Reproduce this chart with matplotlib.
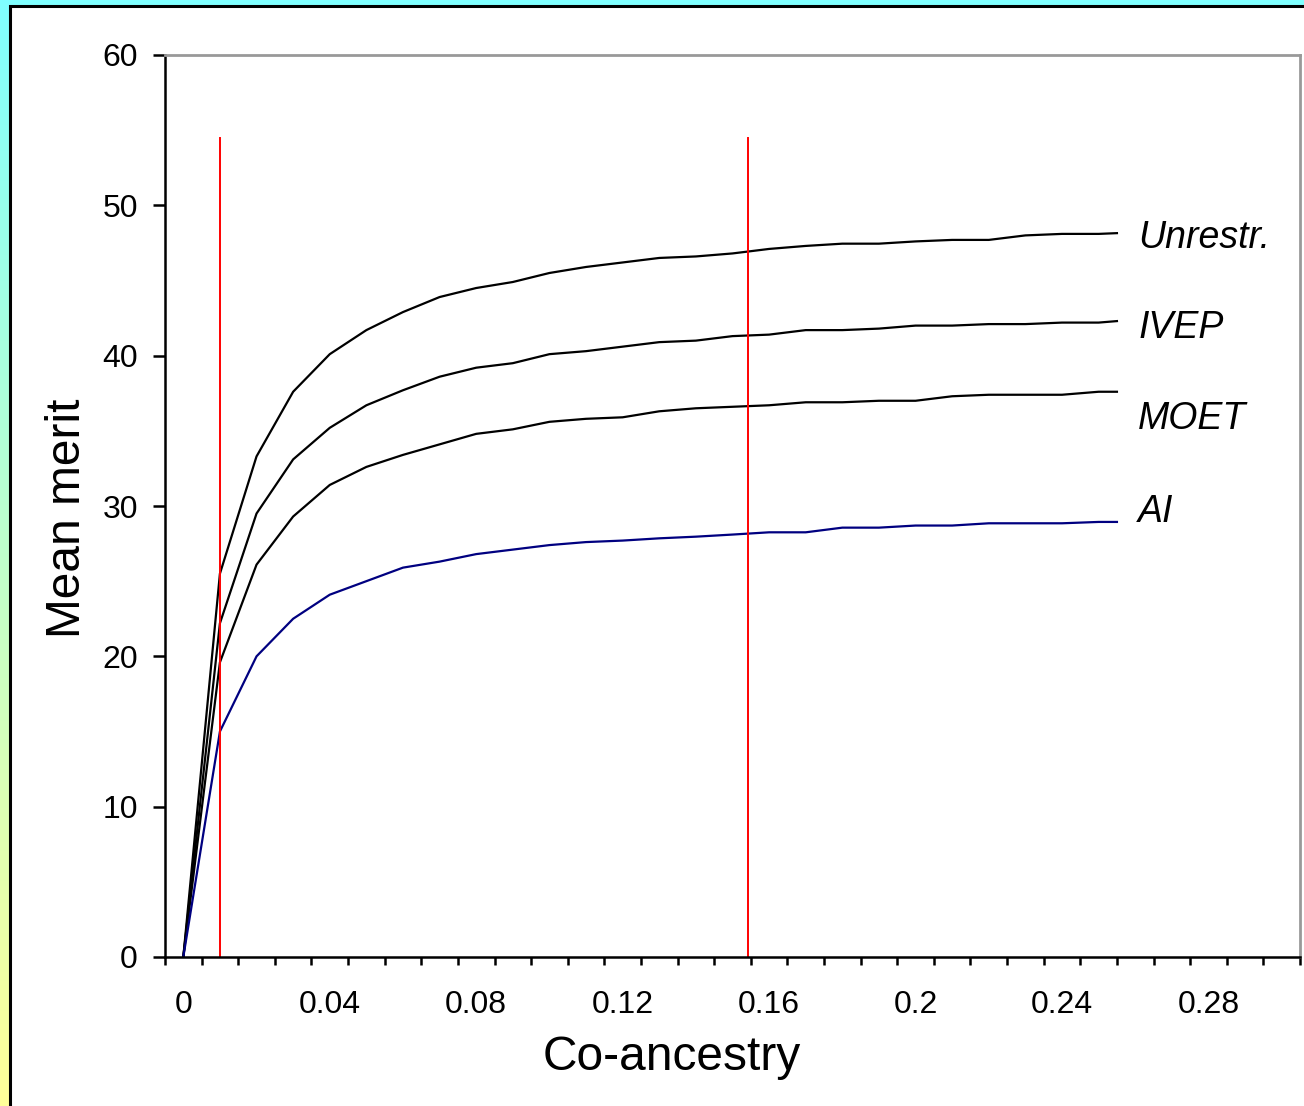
import numpy as np
import matplotlib
matplotlib.use("Agg")
import matplotlib.pyplot as plt
from matplotlib.patches import Rectangle

plt.rcParams["font.family"] = ["Liberation Sans", "DejaVu Sans"]

# co-ancestry values (x) and mean merit per scheme
coancestry = [0.0, 0.01, 0.02, 0.03, 0.04, 0.05, 0.06, 0.07, 0.08, 0.09,
              0.10, 0.11, 0.12, 0.13, 0.14, 0.15, 0.16, 0.17, 0.18, 0.19,
              0.20, 0.21, 0.22, 0.23, 0.24, 0.25, 0.255]

unrestr = [0.0, 25.5, 33.3, 37.6, 40.1, 41.7, 42.9, 43.9, 44.5, 44.9,
           45.5, 45.9, 46.2, 46.5, 46.6, 46.8, 47.1, 47.3, 47.45, 47.45,
           47.6, 47.7, 47.7, 48.0, 48.1, 48.1, 48.15]
ivep = [0.0, 22.2, 29.5, 33.1, 35.2, 36.7, 37.7, 38.6, 39.2, 39.5,
        40.1, 40.3, 40.6, 40.9, 41.0, 41.3, 41.4, 41.7, 41.7, 41.8,
        42.0, 42.0, 42.1, 42.1, 42.2, 42.2, 42.3]
moet = [0.0, 19.6, 26.1, 29.3, 31.4, 32.6, 33.4, 34.1, 34.8, 35.1,
        35.6, 35.8, 35.9, 36.3, 36.5, 36.6, 36.7, 36.9, 36.9, 37.0,
        37.0, 37.3, 37.4, 37.4, 37.4, 37.6, 37.6]
ai = [0.0, 15.0, 20.0, 22.5, 24.1, 25.0, 25.9, 26.3, 26.8, 27.1,
      27.4, 27.6, 27.7, 27.85, 27.96, 28.1, 28.25, 28.25, 28.56, 28.56,
      28.7, 28.7, 28.85, 28.85, 28.85, 28.94, 28.94]

series_names = ["Unrestr.", "IVEP", "MOET", "AI"]
series_colors = ["black", "black", "black", "#000080"]
label_y = [47.16, 41.18, 35.12, 28.96]

marker_x = [0.01, 0.1542]   # red vertical guides
marker_top = 54.5

x_ticks = [0.0, 0.04, 0.08, 0.12, 0.16, 0.2, 0.24, 0.28]
x_ticklabels = ["0", "0.04", "0.08", "0.12", "0.16", "0.2", "0.24", "0.28"]
y_ticks = [0, 10, 20, 30, 40, 50, 60]


fig = plt.figure(figsize=(13.04, 11.06), dpi=100)

# slide-style background: cyan -> yellow gradient behind a white panel
bg = fig.add_axes([0, 0, 1, 1], zorder=-1)
top_col = np.array([0.5, 1.0, 1.0])
bot_col = np.array([1.0, 1.0, 0.6])
t = np.linspace(0, 1, 256)[:, None]
grad = top_col * (1 - t) + bot_col * t
bg.imshow(grad[:, None, :], aspect="auto", extent=[0, 1, 0, 1], origin="upper")
bg.add_patch(Rectangle((9.5 / 1304, -0.1), 1.2, 1.1 - 6.5 / 1106,
                       transform=bg.transAxes, facecolor="white",
                       edgecolor="black", linewidth=2.2))
bg.set_xlim(0, 1)
bg.set_ylim(0, 1)
bg.axis("off")

ax = fig.add_axes([165 / 1304, 1 - 957 / 1106, 1135 / 1304, 902 / 1106])
ax.set_facecolor("white")

for vals, col in zip([unrestr, ivep, moet, ai], series_colors):
    ax.plot(coancestry, vals, color=col, linewidth=1.6, solid_joinstyle="round")

for xm in marker_x:
    ax.plot([xm, xm], [0, marker_top], color="red", linewidth=1.4)

for name, yl in zip(series_names, label_y):
    ax.text(0.2608, yl, name, fontsize=27, style="italic", va="baseline",
            ha="left")

ax.set_xlim(-0.005, 0.305)
ax.set_ylim(0, 60)

ax.set_xticks(x_ticks)
ax.set_xticklabels(x_ticklabels)
ax.set_xticks([-0.005 + 0.01 * k for k in range(32)], minor=True)
ax.tick_params(axis="x", which="major", length=0, pad=24, labelsize=23)
ax.tick_params(axis="x", which="minor", length=6, width=1.8, direction="out")
ax.set_yticks(y_ticks)
ax.tick_params(axis="y", which="major", length=8.5, width=1.8, pad=11,
               labelsize=23)

for side in ("left", "bottom"):
    ax.spines[side].set_color("black")
    ax.spines[side].set_linewidth(1.8)
for side in ("top", "right"):
    ax.spines[side].set_color("#999999")
    ax.spines[side].set_linewidth(2.0)

fig.text(672 / 1304, 1 - 1058 / 1106, "Co-ancestry", fontsize=34.5,
         ha="center", va="center")
fig.text(68 / 1304, 1 - 518 / 1106, "Mean merit", fontsize=34.5,
         ha="center", va="center", rotation=90)

fig.savefig("out.png", dpi=100)
